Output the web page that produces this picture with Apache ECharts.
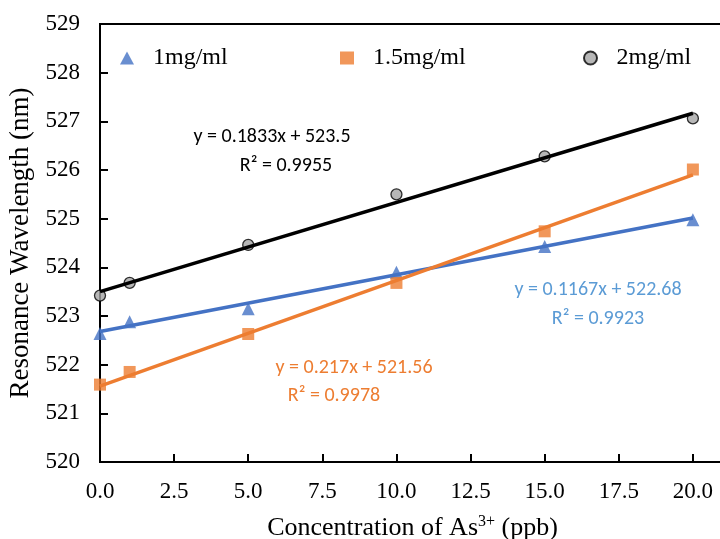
<!DOCTYPE html>
<html><head><meta charset="utf-8">
<script src="https://cdn.jsdelivr.net/npm/echarts@6/dist/echarts.min.js"></script>
<style>html,body{margin:0;padding:0;background:#fff}#c{width:720px;height:539px}</style>
</head><body><div id="c"></div>
<script>
const xValues = [0, 1, 5, 10, 15, 20];
const s1mg = [522.64, 522.88, 523.15, 523.9, 524.43, 524.98];
const s15mg = [521.59, 521.85, 522.63, 523.68, 524.74, 526.01];
const s2mg = [523.42, 523.68, 524.46, 525.5, 526.28, 527.06];
const seriesNames = ['1mg/ml', '1.5mg/ml', '2mg/ml'];
const slopes = [0.1167, 0.217, 0.1833];
const intercepts = [522.68, 521.56, 523.5];
const r2 = ['0.9923', '0.9978', '0.9955'];
const xTicks = [0, 2.5, 5, 7.5, 10, 12.5, 15, 17.5, 20];
const yTicks = [520, 521, 522, 523, 524, 525, 526, 527, 528, 529];

const serif = '"Liberation Serif", "Times New Roman", serif';
const sans = 'Carlito, Lato, "Liberation Sans", sans-serif';
const chart = echarts.init(document.getElementById('c'));

function pairs(vals) { return xValues.map((x, i) => [x, vals[i]]); }
function trend(k) {
  const x0 = xValues[0], x1 = xValues[xValues.length - 1];
  return [[x0, intercepts[k] + slopes[k] * x0], [x1, intercepts[k] + slopes[k] * x1]];
}
const colors = ['#4472c4', '#ed7d31', '#a5a5a5'];
const trendColors = ['#4472c4', '#ed7d31', '#000000'];
const labelColors = ['#5b9bd5', '#ed7d31', '#000000'];

const scatter = [
  {name: seriesNames[0], type: 'scatter', data: pairs(s1mg), symbol: 'triangle', symbolSize: 13,
   itemStyle: {color: colors[0]}, z: 2},
  {name: seriesNames[1], type: 'scatter', data: pairs(s15mg), symbol: 'rect', symbolSize: 12,
   itemStyle: {color: colors[1]}, z: 2},
  {name: seriesNames[2], type: 'scatter', data: pairs(s2mg), symbol: 'circle', symbolSize: 11,
   itemStyle: {color: colors[2], borderColor: '#000', borderWidth: 1.3}, z: 2}
];
const trends = [0, 1, 2].map(k => ({
  name: 'trend' + k, type: 'line', data: trend(k), symbol: 'none', silent: true,
  lineStyle: {color: trendColors[k], width: 3.5}, z: 3
}));

function legend(idx, left) {
  return {data: [seriesNames[idx]], left: left, top: 41, itemWidth: 14, itemHeight: 13, itemGap: 0,
    textStyle: {fontFamily: serif, fontSize: 24, color: '#000', padding: [0, 0, 0, 14]}};
}

const annot = [
  {k: 2, x: 272, y: 137, x2: 286, y2: 166},
  {k: 0, x: 598, y: 290, x2: 598, y2: 319},
  {k: 1, x: 354, y: 368, x2: 334, y2: 396}
];
const graphics = [];
annot.forEach(a => {
  const k = a.k;
  graphics.push({type: 'text', x: a.x, y: a.y, style: {
    text: 'y = ' + slopes[k] + 'x + ' + intercepts[k], fill: labelColors[k],
    font: '20px ' + sans, textAlign: 'center', textVerticalAlign: 'middle'}, z: 10});
  graphics.push({type: 'text', x: a.x2, y: a.y2, style: {
    text: 'R² = ' + r2[k], fill: labelColors[k],
    font: '20px ' + sans, textAlign: 'center', textVerticalAlign: 'middle'}, z: 10});
});

chart.setOption({
  animation: false,
  backgroundColor: '#fff',
  grid: {left: 100, top: 24, bottom: 77, right: -47, containLabel: false, outerBoundsMode: 'none',
    show: true, borderColor: '#000', borderWidth: 2},
  legend: [legend(0, 115), legend(1, 335), legend(2, 578)],
  xAxis: {
    type: 'value', min: xTicks[0], max: 22.5, interval: 2.5,
    name: 'Concentration of As{sup|3+} (ppb)', nameLocation: 'middle', nameGap: 52,
    nameTextStyle: {fontFamily: serif, fontSize: 26, color: '#000', padding: [0, 42, 0, 0],
      rich: {sup: {fontFamily: serif, fontSize: 16, color: '#000', verticalAlign: 'top', padding: [0, 0, 12, 0]}}},
    axisLine: {lineStyle: {color: '#000', width: 2}},
    axisTick: {inside: true, length: 8, lineStyle: {color: '#000', width: 2}},
    axisLabel: {fontFamily: serif, fontSize: 23, color: '#000', margin: 18,
      formatter: v => xTicks.indexOf(v) >= 0 ? v.toFixed(1) : ''},
    splitLine: {show: false}
  },
  yAxis: {
    type: 'value', min: yTicks[0], max: yTicks[yTicks.length - 1], interval: 1,
    name: 'Resonance Wavelength (nm)', nameLocation: 'middle', nameGap: 63, nameRotate: 90,
    nameTextStyle: {fontFamily: serif, fontSize: 27, color: '#000'},
    axisLine: {lineStyle: {color: '#000', width: 2}},
    axisTick: {inside: true, length: 8, lineStyle: {color: '#000', width: 2}},
    axisLabel: {fontFamily: serif, fontSize: 23, color: '#000', margin: 20},
    splitLine: {show: false}
  },
  series: scatter.concat(trends),
  graphic: graphics
});
</script></body></html>
